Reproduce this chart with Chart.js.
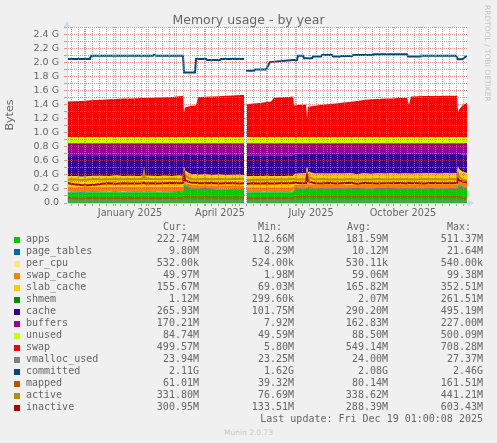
<!DOCTYPE html>
<html><head><meta charset="utf-8">
<script src="https://cdn.jsdelivr.net/npm/chart.js@4/dist/chart.umd.min.js"></script>
<style>
html,body{margin:0;padding:0;background:#F0F0F0;}
#wrap{position:relative;width:497px;height:443px;overflow:hidden;background:#F0F0F0;font-family:'DejaVu Sans',sans-serif;color:#666666;}
#chartBox{position:absolute;left:0;top:0;width:497px;height:225px;}
.t{position:absolute;white-space:pre;}
.mono{font-family:'DejaVu Sans Mono',monospace;font-size:10px;line-height:12px;color:#666666;}
.sq{position:absolute;width:6px;height:6px;}
</style></head><body>
<div id="wrap">
  <div id="chartBox"><canvas id="c"></canvas></div>
  <div class="t" style="left:0;top:12px;width:497px;text-align:center;font-size:12.5px;line-height:15px;">Memory usage - by year</div>
  <div class="t" style="left:492px;top:5px;font-size:7.5px;line-height:9px;color:#C4C4C4;transform:rotate(90deg);transform-origin:0 0;">RRDTOOL / TOBI OETIKER</div>
  <div class="t" style="left:0;top:427.6px;width:497px;text-align:center;font-size:7.5px;line-height:9px;color:#C8C8C8;">Munin 2.0.73</div>
</div>
<script>
// ---------- data (MiB) ----------
const areaDays = [0,7,14,21,28,35,42,49,56,63,70,76,77,78,84,91,98,105,112,116,
  117,118,124,129,131,138,145,152,159,166,
  173,177,178,180,186,193,200,204,207,214,
  221,226,227,228,235,239,240,241,248,255,
  262,269,276,283,290,297,304,311,318,325,
  332,340,342,344,350,357,364,371,378,385,
  390,391,392,396,400];

const apps = [152,155,150,154,157,153,156,158,152,155,157,155,156,154,158,156,153,157,160,158,
  270,250,215,212,210,205,203,198,196,194,
  192,190,null,158,155,153,156,154,157,155,
  158,156,190,205,210,212,235,218,212,208,
  210,205,212,208,206,210,207,204,209,206,
  210,208,212,209,207,211,208,210,212,209,
  212,265,250,230,222.74];

const pageTables = [10,10,10.2,10,9.9,10,10.1,10,10,10.2,10,10,10,10,10.1,10,10,10.2,10,10,
  11,10.5,10.2,10,10,10.1,10,10,10.2,10,
  10,10,null,9.5,9.6,9.8,9.8,10,10,10,
  10,10,10.5,10.3,10.2,10.2,11,10.4,10.2,10.2,
  10.2,10.1,10.2,10.2,10.1,10.2,10.2,10.2,10.1,10.2,
  10.2,10.2,10.2,10.2,10.1,10.2,10.2,10.2,10.1,10.2,
  10.2,11,10.5,10,9.80];

const perCpu = [0.53,0.53,0.53,0.53,0.53,0.53,0.53,0.53,0.53,0.53,0.53,0.53,0.53,0.53,0.53,0.53,0.53,0.53,0.53,0.53,
  0.53,0.53,0.53,0.53,0.53,0.53,0.53,0.53,0.53,0.53,
  0.53,0.53,null,0.53,0.53,0.53,0.53,0.53,0.53,0.53,
  0.53,0.53,0.53,0.53,0.53,0.53,0.53,0.53,0.53,0.53,
  0.53,0.53,0.53,0.53,0.53,0.53,0.53,0.53,0.53,0.53,
  0.53,0.53,0.53,0.53,0.53,0.53,0.53,0.53,0.53,0.53,
  0.53,0.53,0.53,0.53,0.52];

const swapCache = [70,66,72,68,65,71,69,67,73,68,66,68,66,70,67,69,71,68,66,67,
  30,35,40,42,40,44,42,45,46,48,
  47,48,null,62,66,68,65,67,64,66,
  63,65,55,50,48,46,40,45,47,45,
  48,46,44,47,45,48,46,50,47,48,
  46,48,45,47,46,48,47,46,48,47,
  46,45,48,50,49.97];

const slabCache = [158,162,150,155,163,160,157,165,158,162,159,160,230,162,160,158,163,157,162,160,
  215,175,152,155,150,158,152,160,155,158,
  162,156,null,160,163,158,165,160,162,158,
  164,160,160,158,162,165,245,180,158,165,
  160,168,162,170,158,165,160,166,162,168,
  160,165,162,160,166,162,168,161,165,163,
  165,215,185,160,155.67];

const shmem = [2,2,2,2,2,2,2,2,2,2,2,2,2,2,2,2,2,2,2,2,
  2,2,2,2,2,2,2,2,2,2,
  2,2,null,1.5,1.8,2,2,2,2,2,
  2,2,2,2,2,2,2,2,2,2,
  2,2,2,2,2,2,2,2,2,2,
  2,2,2,2,2,2,2,2,2,2,
  2,2,1.5,1.2,1.12];

const cache = [292,290,300,296,288,291,293,285,290,289,293,292,222,290,290,292,288,290,286,290,
  190,250,280,285,290,285,292,288,293,290,
  287,292,null,302,300,305,298,303,300,304,
  298,302,290,290,292,290,200,270,298,295,
  300,296,298,290,302,295,300,295,298,294,
  300,296,290,298,295,296,292,298,292,296,
  294,190,225,252,265.93];

const buffers = [188,187,188,187,187,185,185,185,187,186,185,185,186,184,185,185,185,188,186,185,
  155,150,173,166,170,168,171,169,170,170,
  172,174,null,178,176,176,176,176,177,177,
  177,177,165,157,148,147,140,147,145,147,
  142,145,144,145,149,142,147,145,144,144,
  144,143,151,146,146,143,145,145,143,145,
  143,145,152,168,170.21];

const unused = [88,87,88,89,88,87,88,88,89,88,87,88,88,88,88,87,88,88,89,88,
  88,88,88,88,88,87,88,88,88,88,
  88,88,null,88,88,87,88,88,88,88,
  88,88,88,88,88,88,88,88,88,88,
  88,87,88,88,88,88,88,88,88,88,
  88,88,88,88,88,88,88,88,88,88,
  88,88,88,88,84.74];

const swap = [520,525,530,535,543,547,553,558,564,566,570,573,574,574,576,581,584,588,596,602,
  361,433,458,463,586,591,596,599,605,609,
  615,617,null,484,492,502,513,520,576,584,
  588,594,463,468,474,474,279,443,458,474,
  486,494,506,515,530,545,553,558,564,566,
  571,574,474,596,599,601,602,602,604,605,
  607,371,402,474,499.57];

const vmallocUsed = [24,24,24,24,24,24,24,24,24,24,24,24,24,24,24,24,24,24,24,24,
  24,24,24,24,24,24,24,24,24,24,
  24,24,null,23.5,23.5,24,24,24,24,24,
  24,24,24,24,24,24,24,24,24,24,
  24,24,24,24,24,24,24,24,24,24,
  24,24,24,24,24,24,24,24,24,24,
  24,24,24,24,23.94];

const mapped = [72,74,70,73,75,72,74,76,73,75,74,75,78,74,76,73,75,77,74,76,
  95,90,85,84,82,83,80,82,80,81,
  80,82,null,70,72,71,73,72,74,72,
  73,74,85,88,90,92,100,95,92,90,
  93,91,92,90,93,91,92,90,92,91,
  90,92,91,93,90,92,91,90,92,91,
  90,95,85,70,61.01];

const active = [340,345,335,342,350,345,348,352,346,350,348,355,445,350,352,346,350,355,348,352,
  455,400,350,345,348,352,346,350,348,352,
  350,355,null,330,338,342,340,345,342,348,
  345,350,350,345,342,348,440,380,345,350,
  342,348,345,352,340,348,345,350,342,348,
  346,350,344,348,342,350,346,348,345,350,
  348,430,380,340,331.8];

const inactive = [292,275,262,258,265,282,288,280,290,285,283,288,300,286,290,284,288,292,287,290,
  420,330,300,295,290,288,292,286,290,288,
  285,290,null,282,288,285,290,286,284,290,
  287,292,300,295,290,292,385,320,290,286,
  292,285,290,294,282,292,288,284,290,287,
  292,286,296,288,290,285,292,288,290,287,
  292,350,330,310,300.95];

const committedDays = [0,23,24,86,87,89,116,117,128,129,139,140,153,154,177,178,179,187,188,199,
  203,226,230,231,236,237,245,246,254,255,265,266,273,274,285,286,306,307,340,341,
  353,354,389,391,395,400];
const committed = [2104,2104,2150,2150,2166,2150,2150,1905,1905,2104,2104,2089,2089,2104,2104,null,1930,1930,1951,1951,
  2058,2089,2089,2150,2150,2115,2115,2140,2140,2161,2161,2140,2140,2145,2145,2161,2161,2171,2171,2140,
  2140,2150,2150,2099,2099,2150];

// axis / grid positions (days since 14 Nov 2024)
const monthDays = [17,48,79,107,138,168,199,229,260,291,321,352,382];
const xLabelDays = [63,153,244,336];
const xLabelTexts = ['January 2025','April 2025','July 2025','October 2025'];
const yTickValues = [0,0.1,0.2,0.3,0.4,0.5,0.6,0.7,0.8,0.9,1.0,1.1,1.2,1.3,1.4,1.5,1.6,1.7,1.8,1.9,2.0,2.1,2.2,2.3,2.4,2.5];
const yTickLabels = ['0.0','','0.2 G','','0.4 G','','0.6 G','','0.8 G','','1.0 G','','1.2 G','','1.4 G','','1.6 G','','1.8 G','','2.0 G','','2.2 G','','2.4 G',''];

// legend
const legendNames = ['apps','page_tables','per_cpu','swap_cache','slab_cache','shmem','cache','buffers','unused','swap','vmalloc_used','committed','mapped','active','inactive'];
const legendColors = ['#00CC00','#0066B3','#FFE680','#FF8000','#FFCC00','#008F00','#330099','#990099','#CCFF00','#FF0000','#808080','#00487D','#B35A00','#B38F00','#B30000'];
const legendCur = ['222.74M','9.80M','532.00k','49.97M','155.67M','1.12M','265.93M','170.21M','84.74M','499.57M','23.94M','2.11G','61.01M','331.80M','300.95M'];
const legendMin = ['112.66M','8.29M','524.00k','1.98M','69.03M','299.60k','101.75M','7.92M','49.59M','5.80M','23.25M','1.62G','39.32M','76.69M','133.51M'];
const legendAvg = ['181.59M','10.12M','530.11k','59.06M','165.82M','2.07M','290.20M','162.83M','88.50M','549.14M','24.00M','2.08G','80.14M','338.62M','288.39M'];
const legendMax = ['511.37M','21.64M','540.00k','99.38M','352.51M','261.51M','495.19M','227.00M','500.09M','708.28M','27.37M','2.46G','161.51M','441.21M','603.43M'];
const lastUpdate = 'Last update: Fri Dec 19 01:00:08 2025';

// ---------- chart ----------
const weekDays = [];
for (let d = 4; d <= 400; d += 7) if (!monthDays.includes(d)) weekDays.push(d);
const xTickList = [...weekDays, ...monthDays, ...xLabelDays].sort((a,b)=>a-b);

const toPts = (days, vals) => days.map((d, i) => ({x: d, y: vals[i] === null ? null : vals[i] / 1024}));

const areaSeries = [apps, pageTables, perCpu, swapCache, slabCache, shmem, cache, buffers, unused, swap];
const lineSeries = [[vmallocUsed, areaDays], [committed, committedDays], [mapped, areaDays], [active, areaDays], [inactive, areaDays]];

const datasets = [];
areaSeries.forEach((vals, i) => {
  datasets.push({
    label: legendNames[i], data: toPts(areaDays, vals), stack: 'mem', order: 20,
    fill: i === 0 ? 'origin' : '-1', backgroundColor: legendColors[i], borderColor: legendColors[i],
    borderWidth: 0, pointRadius: 0, tension: 0, spanGaps: false
  });
});
lineSeries.forEach(([vals, days], j) => {
  const i = 10 + j;
  datasets.push({
    label: legendNames[i], data: toPts(days, vals), stack: 'l' + i, order: 10 - j,
    fill: false, borderColor: legendColors[i], backgroundColor: legendColors[i],
    borderWidth: 2, pointRadius: 0, tension: 0, spanGaps: false
  });
});

const MINOR = 'rgba(143,143,143,0.75)';
const MAJOR = 'rgba(222,79,79,0.6)';
const AXIS = '#CFD6F8';
const NONE = 'rgba(0,0,0,0)';

const decor = {
  id: 'decor',
  beforeDraw(chart) {
    const a = chart.chartArea, ctx = chart.ctx;
    ctx.save(); ctx.fillStyle = '#FFFFFF';
    ctx.fillRect(a.left, a.top, a.right - a.left, a.bottom - a.top);
    ctx.restore();
  },
  afterDraw(chart) {
    const a = chart.chartArea, ctx = chart.ctx;
    ctx.save(); ctx.fillStyle = AXIS;
    ctx.beginPath(); ctx.moveTo(a.left - 3, a.top); ctx.lineTo(a.left + 3, a.top); ctx.lineTo(a.left, a.top - 6); ctx.closePath(); ctx.fill();
    ctx.beginPath(); ctx.moveTo(a.right + 1, a.bottom - 3.5); ctx.lineTo(a.right + 1, a.bottom + 3.5); ctx.lineTo(a.right + 7, a.bottom); ctx.closePath(); ctx.fill();
    ctx.strokeStyle = AXIS; ctx.lineWidth = 1;
    ctx.beginPath(); ctx.moveTo(a.right, a.bottom + 0.5); ctx.lineTo(a.right + 2, a.bottom + 0.5); ctx.stroke();
    ctx.restore();
  }
};

const xColor = c => { const v = c.tick ? c.tick.value : null; return monthDays.includes(v) ? MAJOR : (weekDays.includes(v) ? MINOR : NONE); };

new Chart(document.getElementById('c'), {
  type: 'line',
  data: { datasets },
  plugins: [decor],
  options: {
    responsive: true, maintainAspectRatio: false, animation: false,
    layout: { padding: { left: 0, top: 27, right: 30, bottom: 0 } },
    plugins: { legend: { display: false }, tooltip: { enabled: false }, title: { display: false } },
    scales: {
      x: {
        type: 'linear', min: 0, max: 400,
        afterBuildTicks: s => { s.ticks = xTickList.map(v => ({ value: v })); },
        afterFit: s => { s.height = 22; },
        grid: { z: 1, color: xColor, tickColor: xColor, tickLength: 3, drawTicks: true, lineWidth: 1, tickBorderDash: [] },
        border: { display: true, color: AXIS, width: 1, dash: [1, 1], z: 2 },
        ticks: {
          autoSkip: false, maxRotation: 0, minRotation: 0, padding: 2,
          color: '#666666', font: { family: 'DejaVu Sans', size: 9.7 },
          callback: v => { const k = xLabelDays.indexOf(v); return k >= 0 ? xLabelTexts[k] : ''; }
        }
      },
      y: {
        type: 'linear', min: 0, max: 2.51, stacked: true,
        afterBuildTicks: s => { s.ticks = yTickValues.map(v => ({ value: v })); },
        afterFit: s => { s.width = 67; },
        grid: {
          z: 1,
          color: c => { const k = c.index; if (k === 0) return NONE; return k % 2 === 0 ? MAJOR : MINOR; },
          tickColor: c => { const k = c.index; return k % 2 === 0 ? MAJOR : MINOR; },
          tickLength: 3, drawTicks: true, lineWidth: 1, tickBorderDash: []
        },
        border: { display: true, color: AXIS, width: 1, dash: [1, 1], z: 2 },
        title: { display: true, text: 'Bytes', color: '#666666', font: { family: 'DejaVu Sans', size: 11 }, padding: { top: 4, bottom: 0 } },
        ticks: {
          autoSkip: false, padding: 5, color: '#666666', font: { family: 'DejaVu Sans', size: 9.5 },
          callback: (v, i) => yTickLabels[i]
        }
      }
    }
  }
});

// ---------- HTML legend ----------
const wrap = document.getElementById('wrap');
function txt(s, left, top, align, w) {
  const d = document.createElement('div');
  d.className = 't mono';
  d.textContent = s;
  if (align === 'right') { d.style.left = (left - w) + 'px'; d.style.width = w + 'px'; d.style.textAlign = 'right'; }
  else d.style.left = left + 'px';
  d.style.top = top + 'px';
  wrap.appendChild(d);
}
const rowTop = k => 221.2 + 12 * k;
txt('Cur:', 163, rowTop(0));
txt('Min:', 258, rowTop(0));
txt('Avg:', 347, rowTop(0));
txt('Max:', 447, rowTop(0));
legendNames.forEach((n, i) => {
  const k = i + 1;
  const sq = document.createElement('div');
  sq.className = 'sq';
  sq.style.left = '14px'; sq.style.top = (rowTop(k) + 3.5) + 'px';
  sq.style.background = legendColors[i];
  wrap.appendChild(sq);
  txt(n, 26, rowTop(k));
  txt(legendCur[i], 199, rowTop(k), 'right', 80);
  txt(legendMin[i], 294, rowTop(k), 'right', 80);
  txt(legendAvg[i], 388, rowTop(k), 'right', 80);
  txt(legendMax[i], 483, rowTop(k), 'right', 80);
});
txt(lastUpdate, 483, rowTop(16), 'right', 300);
</script>
</body></html>
